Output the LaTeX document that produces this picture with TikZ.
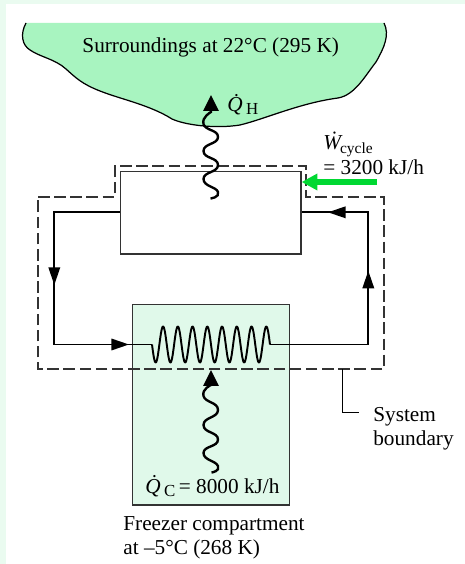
\documentclass[tikz,border=0pt]{standalone}
\usepackage{fontspec}
\setmainfont{Liberation Serif}
\usetikzlibrary{arrows.meta, positioning, calc}
\definecolor{surrgreen}{HTML}{A8F4C0}
\definecolor{freezergreen}{HTML}{E0F9EA}
\definecolor{workgreen}{HTML}{00D832}
\definecolor{pagegreen}{HTML}{EAFBF0}
\definecolor{boxline}{HTML}{333333}
\tikzset{
  boxstyle/.style={draw=boxline, line width=0.7pt, inner sep=0pt},
  pipeline/.style={draw=black, line width=1.1pt},
  flowtip/.style={-{Triangle[length=10pt, width=6.5pt]}, line width=1.1pt},
  heatline/.style={line width=1.35pt, -{Triangle[length=9pt, width=8.5pt]}},
  bounddash/.style={draw=boxline, line width=0.65pt, dash pattern=on 6.6pt off 2.6pt},
  label/.style={font=\fontsize{12.1}{13.6}\selectfont, inner sep=0pt, align=left}
}
\newcommand{\qdot}{\textit{\.Q}}
\newcommand{\subtext}[2][9.6]{\kern-1.5pt\raisebox{-0.35ex}{\fontsize{#1}{10}\selectfont #2}}
\begin{document}
\begin{tikzpicture}[x=0.02cm, y=-0.02cm]
  \useasboundingbox (0,0) rectangle (465,564);
  \fill[pagegreen] (0,0) rectangle (465,564);
  \fill[white] (6,4) rectangle (465,564);

  % surroundings
  \draw[fill=surrgreen, draw=none] (26,23) .. controls (20,34) and (22,45) .. (30,50)
    .. controls (40,57) and (55,59) .. (66,69) .. controls (76,78) and (82,84) .. (100,91)
    .. controls (120,99) and (150,105) .. (172,119) .. controls (185,125) and (215,129) .. (240,125)
    .. controls (265,119) and (300,103) .. (338,98) .. controls (355,95) and (365,76) .. (376,62)
    .. controls (384,48) and (390,35) .. (384,23) -- cycle;
  \draw[line width=0.7pt] (26,23) .. controls (20,34) and (22,45) .. (30,50)
    .. controls (40,57) and (55,59) .. (66,69) .. controls (76,78) and (82,84) .. (100,91)
    .. controls (120,99) and (150,105) .. (172,119) .. controls (185,125) and (215,129) .. (240,125)
    .. controls (265,119) and (300,103) .. (338,98) .. controls (355,95) and (365,76) .. (376,62)
    .. controls (384,48) and (390,35) .. (384,23);
  \node[label, anchor=base] (surrtext) at (210.7,53) {Surroundings at 22°C (295 K)};

  % freezer and cycle box
  \node[boxstyle, fill=freezergreen, minimum width=156.5*0.02cm, minimum height=200.5*0.02cm] (freezer) at (211,404.7) {};
  \node[boxstyle, fill=white, minimum width=180.5*0.02cm, minimum height=82.5*0.02cm] (cyclebox) at (210.7,212.7) {};

  % loop
  \coordinate (loopTL) at (54.3,212.3);
  \coordinate (loopBL) at (54.3,344.5);
  \coordinate (loopBR) at (368.3,344.5);
  \coordinate (loopTR) at (368.3,212.3);
  \coordinate (coilin) at (152,344.5);
  \coordinate (coilout) at (270,344.5);
  \draw[pipeline] (coilout) -- (loopBR) -- (loopTR) -- (loopTR -| cyclebox.east);
  \draw[pipeline] (loopTL -| cyclebox.west) -- (loopTL) -- (loopBL) -- (coilin);
  \draw[pipeline, line join=round] plot[domain=0:118, samples=240, smooth] ({152+\x}, {344.5+18*sin(24.407*\x)});
  \draw[flowtip] ($(loopTL)+(0,50)$) -- (54.3,285);
  \draw[flowtip] ($(loopBL)+(50,0)$) -- (129,344.5);
  \draw[flowtip] ($(loopBR)+(0,-50)$) -- (368.3,270.7);
  \draw[flowtip] ($(loopTR)+(-15,0)$) -- (328,212.3);

  % system boundary
  \draw[bounddash] (38,197) -- (115,197) -- (115,166) -- (306,166) -- (306,197) -- (384,197)
    -- (384,369) -- (38,369) -- cycle;
  \coordinate (leadtop) at (342.7,369);
  \coordinate (leadend) at (359,412.7);
  \draw[line width=0.5pt] (leadtop) |- (leadend);
  \node[label, anchor=base west] (boundtext) at (373,445) {System\\boundary};

  % heat flows
  \draw[heatline] plot[smooth, tension=1] coordinates {(210.5,198.5) (218,192) (203.5,179) (218,165) (203.5,151) (218,137) (203.5,124) (211,112)} -- (211,95);
  \draw[heatline] plot[smooth, tension=1] coordinates {(211.5,472.5) (218,466) (203.5,453) (218,439.5) (203.5,425) (218,410) (203.5,396) (211,385)} -- (211,370);
  \node[label, anchor=base west] (qhot) at (227,111.5) {\qdot\subtext{H}};
  \node[label, anchor=base west] (qcold) at (145,493) {\qdot\subtext{C}\kern-1pt{} = 8000 kJ/h};

  % work input
  \coordinate (workstart) at (377,182);
  \draw[workgreen, line width=3.4pt, -{Triangle[length=9pt, width=9pt, sep=0pt]}] (workstart) -- (cyclebox.east |- workstart);
  \node[label, anchor=base west] (wtext) at (323,150) {\textit{\.W}\subtext[8.8]{cycle}};
  \node[label, anchor=base west] (wvalue) at (323,174) {= 3200 kJ/h};

  % freezer label
  \node[label, anchor=base west] (freezertext) at (123,554) {Freezer compartment\\at –5°C (268 K)};
\end{tikzpicture}
\end{document}
